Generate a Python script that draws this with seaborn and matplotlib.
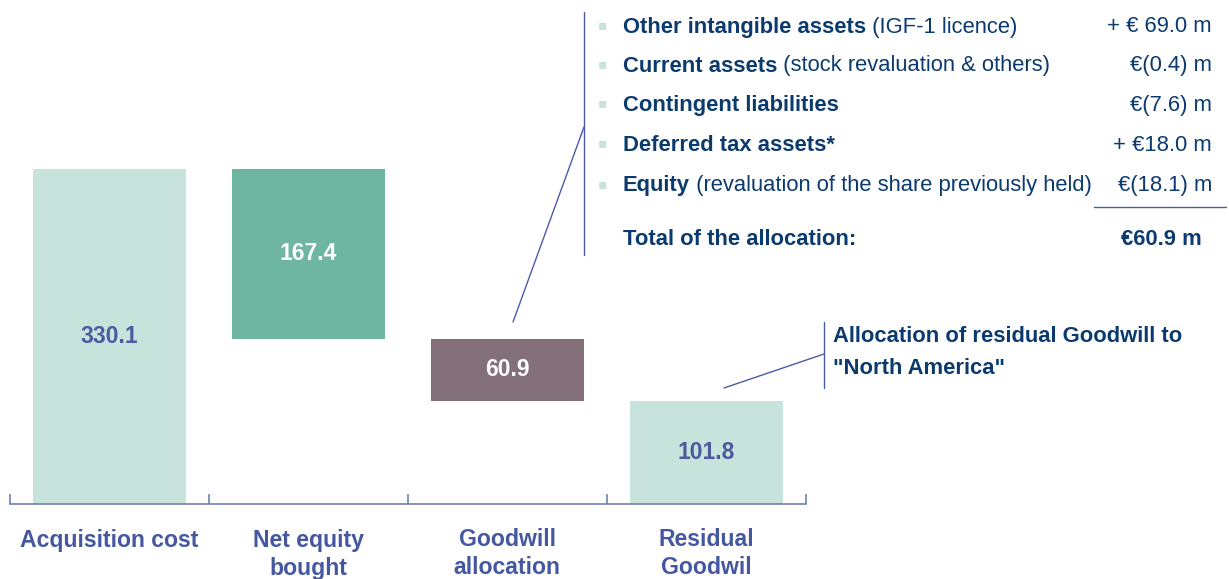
import matplotlib
matplotlib.use('Agg')
import matplotlib.pyplot as plt
import seaborn as sns
import pandas as pd

# ── DATA ──────────────────────────────────────────────
categories = ['Acquisition cost', 'Net equity\nbought', 'Goodwill\nallocation', 'Residual\nGoodwil']
values = [330.1, 167.4, 60.9, 101.8]
value_labels = ['330.1', '167.4', '60.9', '101.8']

alloc_bold = ['Other intangible assets', 'Current assets', 'Contingent liabilities',
              'Deferred tax assets*', 'Equity']
alloc_note = [' (IGF-1 licence)', ' (stock revaluation & others)', '', '',
              ' (revaluation of the share previously held)']
alloc_values = ['+ \u20ac 69.0 m', '\u20ac(0.4) m', '\u20ac(7.6) m', '+ \u20ac18.0 m', '\u20ac(18.1) m']
total_label = 'Total of the allocation:'
total_value = '\u20ac60.9 m'
callout_text = 'Allocation of residual Goodwill to\n"North America"'

# waterfall bottoms: first bar from zero, then step down
bottoms = [0.0, values[0] - values[1], values[0] - values[1] - values[2], 0.0]

BAR_COLORS = ['#C8E3DC', '#6FB6A2', '#836F78', '#C8E3DC']
LABEL_COLORS = ['#4A5BA0', 'white', 'white', '#4A5BA0']
AXIS_BLUE = '#7080B8'
LINE_BLUE = '#4A5BA8'
NAVY = '#0B3A6E'
CAT_BLUE = '#4457A0'
FS = 15.8

sns.set_style('white')
plt.rcParams['font.family'] = ['Liberation Sans', 'DejaVu Sans']

W, H = 1229, 579
fig = plt.figure(figsize=(W / 100, H / 100), dpi=100)


def fx(px):
    return px / W


def fy(py):
    return 1 - py / H


ax = fig.add_axes([fx(10), fy(504), fx(806) - fx(10), fy(0) - fy(504)])

df = pd.DataFrame({'cat': categories, 'val': values})
sns.barplot(data=df, x='cat', y='val', hue='cat', palette=BAR_COLORS,
            legend=False, width=0.77, saturation=1, ax=ax)

# shift bars to waterfall positions
for patch, b, v in zip(ax.patches, bottoms, values):
    patch.set_y(b)
    patch.set_height(v)
    patch.set_edgecolor('none')

for i, (b, v, lab, c) in enumerate(zip(bottoms, values, value_labels, LABEL_COLORS)):
    ax.text(i, b + v / 2, lab, ha='center', va='center', color=c,
            fontsize=16.5, fontweight='bold')

ax.set_xlim(-0.5, 3.5)
ax.set_ylim(0, 496.5)
for s in ['top', 'right', 'left']:
    ax.spines[s].set_visible(False)
ax.spines['bottom'].set_color(AXIS_BLUE)
ax.spines['bottom'].set_linewidth(1.2)
ax.set_yticks([])
ax.set_xticks([-0.5, 0.5, 1.5, 2.5, 3.5])
ax.set_xticklabels([])
ax.tick_params(axis='x', direction='in', length=7, width=1.2, color=AXIS_BLUE, bottom=True)
ax.set_xlabel('')
ax.set_ylabel('')

# category labels, one line at a time
centers = [109, 308, 507, 706]
for cx, cat in zip(centers, categories):
    for k, line in enumerate(cat.split('\n')):
        fig.text(fx(cx), fy(540 + 28 * k), line, ha='center', va='center', color=CAT_BLUE,
                 fontsize=16.6, fontweight='bold')

# ── allocation box ──
row_y = [27, 66, 105, 145, 186]
fig.canvas.draw()
renderer = fig.canvas.get_renderer()
for y, bold, note, val in zip(row_y, alloc_bold, alloc_note, alloc_values):
    fig.text(fx(602), fy(y - 2), '\u25aa', ha='center', va='center', color='#C8E3DC',
             fontsize=10, family='DejaVu Sans')
    t = fig.text(fx(623), fy(y), bold, ha='left', va='center', color=NAVY,
                 fontsize=FS, fontweight='bold')
    if note:
        bb = t.get_window_extent(renderer)
        fig.text(bb.x1 / W, fy(y), note, ha='left', va='center', color=NAVY, fontsize=FS)
    fig.text(fx(1212), fy(y), val, ha='right', va='center', color=NAVY, fontsize=FS)

fig.text(fx(623), fy(239), total_label, ha='left', va='center', color=NAVY,
         fontsize=FS, fontweight='bold')
fig.text(fx(1202), fy(239), total_value, ha='right', va='center', color=NAVY,
         fontsize=FS, fontweight='bold')

# underline + callout lines
line_kw = dict(color=LINE_BLUE, linewidth=1.0, transform=fig.transFigure)
fig.add_artist(plt.Line2D([fx(1094), fx(1226)], [fy(207), fy(207)], **line_kw))
fig.add_artist(plt.Line2D([fx(584), fx(584)], [fy(12), fy(255)], **line_kw))
fig.add_artist(plt.Line2D([fx(513), fx(584)], [fy(322), fy(127)], **line_kw))
fig.add_artist(plt.Line2D([fx(824), fx(824)], [fy(322), fy(388)], **line_kw))
fig.add_artist(plt.Line2D([fx(724), fx(824)], [fy(388), fy(354)], **line_kw))

for k, line in enumerate(callout_text.split('\n')):
    fig.text(fx(833), fy(337 + 31 * k), line, ha='left', va='center',
             color=NAVY, fontsize=FS, fontweight='bold')

fig.savefig('out.png', dpi=100)
